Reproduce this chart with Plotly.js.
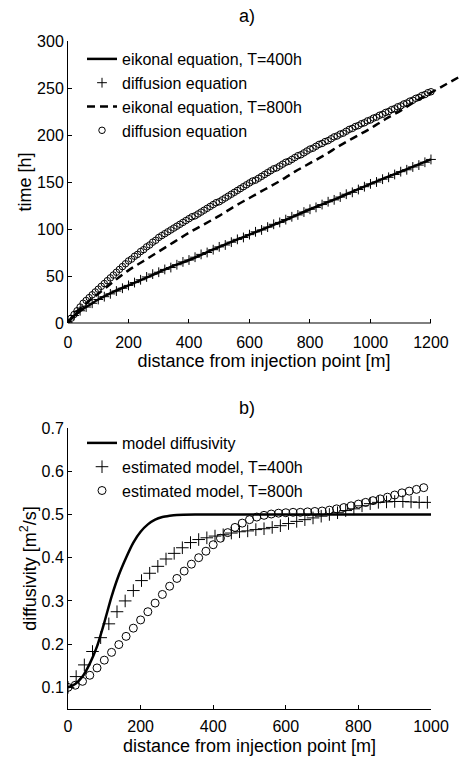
<!DOCTYPE html>
<html><head><meta charset="utf-8">
<script src="https://cdn.plot.ly/plotly-3.0.1.min.js"></script>
<style>html,body{margin:0;padding:0;background:#fff}#chart{width:460px;height:758px}</style>
</head><body><div id="chart"></div><script>
// ---------- panel a) ----------
const eik400X = [0,10,25,50,75,100,150,200,250,300,350,400,500,600,700,800,900,1000,1100,1200];
const eik400T = [0,4,9,15,20,25,33,40,47,54,61,67,81,94,107,121,134,148,161,174];
const diff400X = [0,20,40,60,80,100,120,140,160,180,200,220,240,260,280,300,320,340,360,380,400,420,440,460,480,500,520,540,560,580,600,620,640,660,680,700,720,740,760,780,800,820,840,860,880,900,920,940,960,980,1000,1020,1040,1060,1080,1100,1120,1140,1160,1180,1200];
const diff400T = [0,8,13,17,21,25,28,31,34,37,40,43,46,49,52,54,57,59,62,65,67,70,73,75,78,81,83,86,89,91,94,97,99,102,105,107,110,113,115,118,121,123,126,129,131,134,137,139,142,145,148,150,153,155,158,161,163,166,168,171,174];
const eik800X = [0,10,25,50,75,100,150,200,250,300,350,400,450,500,550,600,650,700,750,800,850,900,950,1000,1050,1100,1150,1200,1250,1300];
const eik800T = [0,5,11,18,25,31,44,56,66,76,86,96,105,114,124,133,142,151,161,170,179,189,198,207,217,226,236,245,254,263];
const diff800X = [0,10,20,30,40,50,60,70,80,90,100,110,120,130,140,150,160,170,180,190,200,210,220,230,240,250,260,270,280,290,300,310,320,330,340,350,360,370,380,390,400,410,420,430,440,450,460,470,480,490,500,510,520,530,540,550,560,570,580,590,600,610,620,630,640,650,660,670,680,690,700,710,720,730,740,750,760,770,780,790,800,810,820,830,840,850,860,870,880,890,900,910,920,930,940,950,960,970,980,990,1000,1010,1020,1030,1040,1050,1060,1070,1080,1090,1100,1110,1120,1130,1140,1150,1160,1170,1180,1190,1200];
const diff800T = [0,5,9,13,17,21,24,27,30,33,36,39,42,45,48,51,54,57,60,63,66,68,71,73,76,78,81,83,86,88,91,93,95,97,99,101,103,105,107,109,111,113,114,116,118,120,122,124,126,128,129,131,133,135,137,139,141,143,145,147,149,151,152,154,156,158,160,162,164,165,167,169,171,172,174,176,178,179,181,183,185,186,188,190,191,193,194,196,198,199,201,202,204,206,207,209,210,212,213,215,216,218,219,221,222,224,225,227,228,230,231,233,234,236,237,239,240,242,243,245,246];
const xTicksA = [0,200,400,600,800,1000,1200];
const yTicksA = [0,50,100,150,200,250,300];

// ---------- panel b) ----------
const modelX = [0,20,40,60,80,100,120,140,160,180,200,220,240,260,280,300,350,400,500,600,700,800,900,1000];
const modelD = [0.1,0.108,0.125,0.155,0.195,0.25,0.31,0.36,0.4,0.435,0.46,0.477,0.488,0.494,0.497,0.499,0.5,0.5,0.5,0.5,0.5,0.5,0.5,0.5];
const est400X = [0,22.5,45,67.5,90,112.5,135,157.5,180,202.5,225,247.5,270,292.5,315,337.5,360,382.5,405,427.5,450,472.5,495,517.5,540,562.5,585,607.5,630,652.5,675,697.5,720,742.5,765,787.5,810,832.5,855,877.5,900,922.5,945,967.5,990];
const est400D = [0.10,0.125,0.152,0.183,0.215,0.247,0.275,0.30,0.324,0.347,0.364,0.38,0.397,0.41,0.423,0.435,0.442,0.446,0.45,0.453,0.457,0.46,0.462,0.465,0.467,0.47,0.474,0.479,0.484,0.488,0.492,0.496,0.5,0.504,0.509,0.513,0.52,0.525,0.528,0.529,0.53,0.53,0.529,0.528,0.528];
const est800X = [0,20,40,60,80,100,120,140,160,180,200,220,240,260,280,300,320,340,360,380,400,420,440,460,480,500,520,540,560,580,600,620,640,660,680,700,720,740,760,780,800,820,840,860,880,900,920,940,960,980];
const est800D = [0.1,0.105,0.114,0.128,0.145,0.163,0.181,0.199,0.218,0.237,0.256,0.275,0.295,0.315,0.334,0.352,0.369,0.385,0.4,0.415,0.43,0.445,0.458,0.47,0.48,0.488,0.494,0.498,0.501,0.503,0.504,0.505,0.505,0.506,0.507,0.508,0.51,0.513,0.516,0.52,0.524,0.528,0.532,0.536,0.54,0.545,0.55,0.554,0.558,0.562];
const xTicksB = [0,200,400,600,800,1000];
const yTicksB = [0.1,0.2,0.3,0.4,0.5,0.6,0.7];

const FONT = 'Liberation Sans, Arial, Helvetica, sans-serif';

const traces = [
  {x: eik400X, y: eik400T, mode:'lines', line:{color:'#000', width:2.5, shape:'spline'}, name:'eikonal equation, T=400h', xaxis:'x', yaxis:'y', legend:'legend'},
  {x: diff400X, y: diff400T, mode:'markers', marker:{symbol:'cross-thin-open', size:7, color:'#000', line:{color:'#000', width:1}}, name:'diffusion equation', xaxis:'x', yaxis:'y', legend:'legend'},
  {x: eik800X, y: eik800T, mode:'lines', line:{color:'#000', width:2.5, dash:'8px,5px', shape:'spline'}, name:'eikonal equation, T=800h', xaxis:'x', yaxis:'y', legend:'legend'},
  {x: diff800X, y: diff800T, mode:'markers', marker:{symbol:'circle-open', size:6.5, color:'#000', line:{color:'#000', width:1}}, name:'diffusion equation', xaxis:'x', yaxis:'y', legend:'legend'},
  {x: modelX, y: modelD, mode:'lines', line:{color:'#000', width:2.5, shape:'spline', smoothing:0.6}, name:'model diffusivity', xaxis:'x2', yaxis:'y2', legend:'legend2'},
  {x: est400X, y: est400D, mode:'markers', marker:{symbol:'cross-thin-open', size:9, color:'#000', line:{color:'#000', width:1}}, name:'estimated model, T=400h', xaxis:'x2', yaxis:'y2', legend:'legend2'},
  {x: est800X, y: est800D, mode:'markers', marker:{symbol:'circle-open', size:8, color:'#000', line:{color:'#000', width:1}}, name:'estimated model, T=800h', xaxis:'x2', yaxis:'y2', legend:'legend2'}
];

const axCommon = {ticks:'inside', ticklen:4, tickcolor:'#000', tickwidth:1, showgrid:false, zeroline:false, tickfont:{size:16, color:'#000'}, automargin:false, fixedrange:true};

const layout = {
  width:460, height:758,
  margin:{l:0, r:0, t:0, b:0},
  paper_bgcolor:'#fff', plot_bgcolor:'rgba(0,0,0,0)',
  font:{family:FONT, size:16, color:'#000'},
  showlegend:true,
  xaxis: Object.assign({}, axCommon, {domain:[68/460, 1], range:[0,1296], tickvals:xTicksA, showline:false, anchor:'y', ticklabelstandoff:8,
     title:{text:'distance from injection point [m]', font:{size:18}, standoff:4}}),
  yaxis: Object.assign({}, axCommon, {domain:[1-323/758, 1-41/758], range:[0,300], tickvals:yTicksA, showline:true, linecolor:'#000', linewidth:1, anchor:'x', ticklabelstandoff:0,
     title:{text:'time [h]', font:{size:18}, standoff:0}}),
  xaxis2: Object.assign({}, axCommon, {domain:[68/460, 431/460], range:[0,1000], tickvals:xTicksB, showline:true, linecolor:'#000', linewidth:1, anchor:'y2', ticklabelstandoff:3,
     title:{text:'distance from injection point [m]', font:{size:18}, standoff:5}}),
  yaxis2: Object.assign({}, axCommon, {domain:[1-709/758, 1-428/758], range:[0.05,0.7], tickvals:yTicksB, tickformat:'.1f', showline:true, linecolor:'#000', linewidth:1, anchor:'x2', ticklabelstandoff:0,
     title:{text:'diffusivity [m<sup>2</sup>/s]', font:{size:18}, standoff:0}}),
  shapes:[
    {type:'line', xref:'x', yref:'paper', x0:0, x1:1200, y0:1-323/758, y1:1-323/758, line:{color:'#000', width:1}, layer:'above'}
  ],
  annotations:[
    {text:'a)', xref:'paper', yref:'paper', x:247/460, y:1-16/758, xanchor:'center', yanchor:'middle', showarrow:false, font:{size:18}},
    {text:'b)', xref:'paper', yref:'paper', x:247/460, y:1-408/758, xanchor:'center', yanchor:'middle', showarrow:false, font:{size:18}}
  ],
  legend:{x:82/460, y:1-42/758, xanchor:'left', yanchor:'top', bgcolor:'rgba(0,0,0,0)', borderwidth:0, font:{size:16}, tracegroupgap:0, itemwidth:30},
  legend2:{x:82/460, y:1-426/758, xanchor:'left', yanchor:'top', bgcolor:'rgba(0,0,0,0)', borderwidth:0, font:{size:16}, tracegroupgap:0, itemwidth:30}
};

Plotly.newPlot('chart', traces, layout, {staticPlot:true, displayModeBar:false});
</script></body></html>
